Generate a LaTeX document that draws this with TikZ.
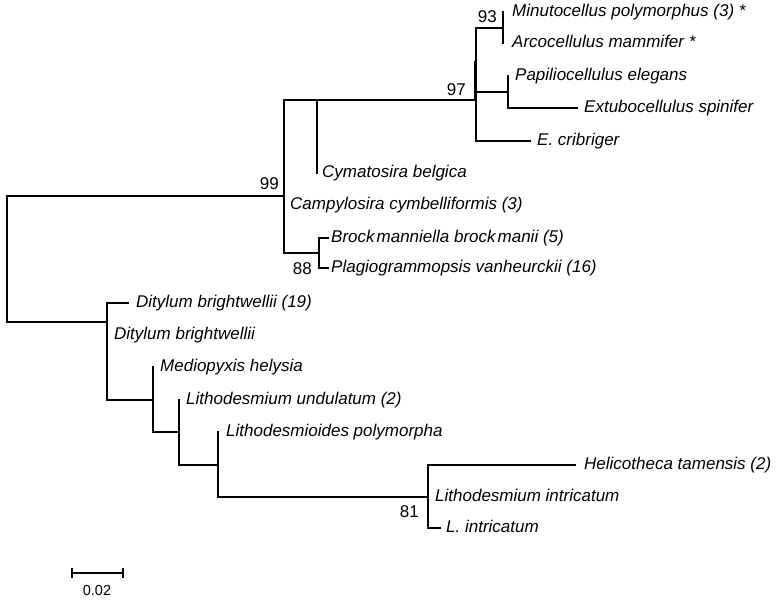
\documentclass[tikz,border=0pt]{standalone}
\usepackage{fontspec}
\setmainfont{Liberation Sans}
\begin{document}
\begin{tikzpicture}[x=1pt,y=-1pt,
  edge/.style={line width=1.1pt,black,line cap=rect},
  leaf/.style={anchor=base west,inner sep=0pt,yshift=-4.5pt,font=\fontsize{17}{20}\selectfont\itshape},
  boot/.style={anchor=base east,inner sep=0pt,font=\fontsize{17}{20}\selectfont},
  scalelab/.style={anchor=base,inner sep=0pt,font=\fontsize{14.5}{17}\selectfont}]
\useasboundingbox (0,0) rectangle (782,600);
% ---- coordinates of tree nodes
\coordinate (rootT) at (7,196);
\coordinate (rootB) at (7,322);
% upper clade
\coordinate (n99M) at (284,196);
\coordinate (n99T) at (284,100);
\coordinate (n99B) at (284,253);
\coordinate (n317T) at (317,100);
\coordinate (n317B) at (317,173);
\coordinate (n97M) at (476,100);
\coordinate (n97T) at (476,28);
\coordinate (n97B) at (476,141);
\coordinate (n97aT) at (474.5,62);
\coordinate (n97aB) at (474.5,100);
\coordinate (n93M) at (503,28);
\coordinate (n93T) at (503,12);
\coordinate (n93B) at (503,43);
\coordinate (n508L) at (476,92);
\coordinate (n508M) at (508,92);
\coordinate (n508T) at (508,76);
\coordinate (n508B) at (508,108);
\coordinate (extT) at (577,108);
\coordinate (ecrT) at (530,141);
\coordinate (n88M) at (319,253);
\coordinate (n88T) at (319,238);
\coordinate (n88B) at (319,268);
\coordinate (brT) at (328,238);
\coordinate (plT) at (328,268);
% lower clade
\coordinate (n107M) at (107,322);
\coordinate (n107T) at (107,303);
\coordinate (n107B) at (107,400);
\coordinate (dit19T) at (128,303);
\coordinate (n153M) at (153,400);
\coordinate (n153T) at (153,367);
\coordinate (n153B) at (153,432);
\coordinate (n179M) at (179,432);
\coordinate (n179T) at (179,400);
\coordinate (n179B) at (179,465);
\coordinate (n218M) at (218,465);
\coordinate (n218T) at (218,432);
\coordinate (n218B) at (218,497);
\coordinate (n428M) at (428,497);
\coordinate (n428T) at (428,465);
\coordinate (n428B) at (428,528);
\coordinate (helT) at (575,465);
\coordinate (linT) at (440,528);
% ---- branches
\draw[edge] (rootT) -- (rootB);
\draw[edge] (rootT) -- (n99M);
\draw[edge] (n99T) -- (n99B);
\draw[edge] (n99T) -- (n317T) -- (n97M);
\draw[edge] (n317T) -- (n317B);
\draw[edge] (n97T) -- (n97B);
\draw[edge] (n97aT) -- (n97aB);
\draw[edge] (n97T) -- (n93M);
\draw[edge] (n93T) -- (n93B);
\draw[edge] (n508L) -- (n508M);
\draw[edge] (n508T) -- (n508B);
\draw[edge] (n508B) -- (extT);
\draw[edge] (n97B) -- (ecrT);
\draw[edge] (n99B) -- (n88M);
\draw[edge] (n88T) -- (n88B);
\draw[edge] (n88T) -- (brT);
\draw[edge] (n88B) -- (plT);
\draw[edge] (rootB) -- (n107M);
\draw[edge] (n107T) -- (n107B);
\draw[edge] (n107T) -- (dit19T);
\draw[edge] (n107B) -- (n153M);
\draw[edge] (n153T) -- (n153B);
\draw[edge] (n153B) -- (n179M);
\draw[edge] (n179T) -- (n179B);
\draw[edge] (n179B) -- (n218M);
\draw[edge] (n218T) -- (n218B);
\draw[edge] (n218B) -- (n428M);
\draw[edge] (n428T) -- (n428B);
\draw[edge] (n428T) -- (helT);
\draw[edge] (n428B) -- (linT);
% ---- leaf labels
\node[leaf] (minu) at (512,12) {Minutocellus polymorphus (3) *};
\node[leaf] (arco) at (512,43) {Arcocellulus mammifer *};
\node[leaf] (papi) at (515,76) {Papiliocellulus elegans};
\node[leaf] (extu) at (584,108) {Extubocellulus spinifer};
\node[leaf] (ecri) at (537,141) {E. cribriger};
\node[leaf] (cyma) at (322,173) {Cymatosira belgica};
\node[leaf] (camp) at (290,205) {Campylosira cymbelliformis (3)};
\node[leaf] (broc) at (331,238) {Brock\kern2pt manniella brock\kern2pt manii (5)};
\node[leaf] (plag) at (331,268) {Plagiogrammopsis vanheurckii (16)};
\node[leaf] (dit1) at (136,303) {Ditylum brightwellii (19)};
\node[leaf] (dit2) at (114,335) {Ditylum brightwellii};
\node[leaf] (medi) at (160,367) {Mediopyxis helysia};
\node[leaf] (lund) at (186,400) {Lithodesmium undulatum (2)};
\node[leaf] (lpol) at (226,432) {Lithodesmioides polymorpha};
\node[leaf] (heli) at (584,465) {Helicotheca tamensis (2)};
\node[leaf] (lint) at (435,497) {Lithodesmium intricatum};
\node[leaf] (lin2) at (446,528) {L. intricatum};
% ---- bootstrap values
\node[boot] (b93) at (497,22) {93};
\node[boot] (b97) at (466,95) {97};
\node[boot] (b99) at (279,189) {99};
\node[boot] (b88) at (312,274) {88};
\node[boot] (b81) at (419,517) {81};
% ---- scale bar
\coordinate (sbL) at (72,573);
\coordinate (sbR) at (123,573);
\draw[edge,line cap=butt] (sbL) -- (sbR);
\draw[edge,line cap=butt] ([yshift=5pt]sbL) -- ([yshift=-5pt]sbL);
\draw[edge,line cap=butt] ([yshift=5pt]sbR) -- ([yshift=-5pt]sbR);
\node[scalelab] (sblab) at (97,595) {0.02};
\end{tikzpicture}
\end{document}
